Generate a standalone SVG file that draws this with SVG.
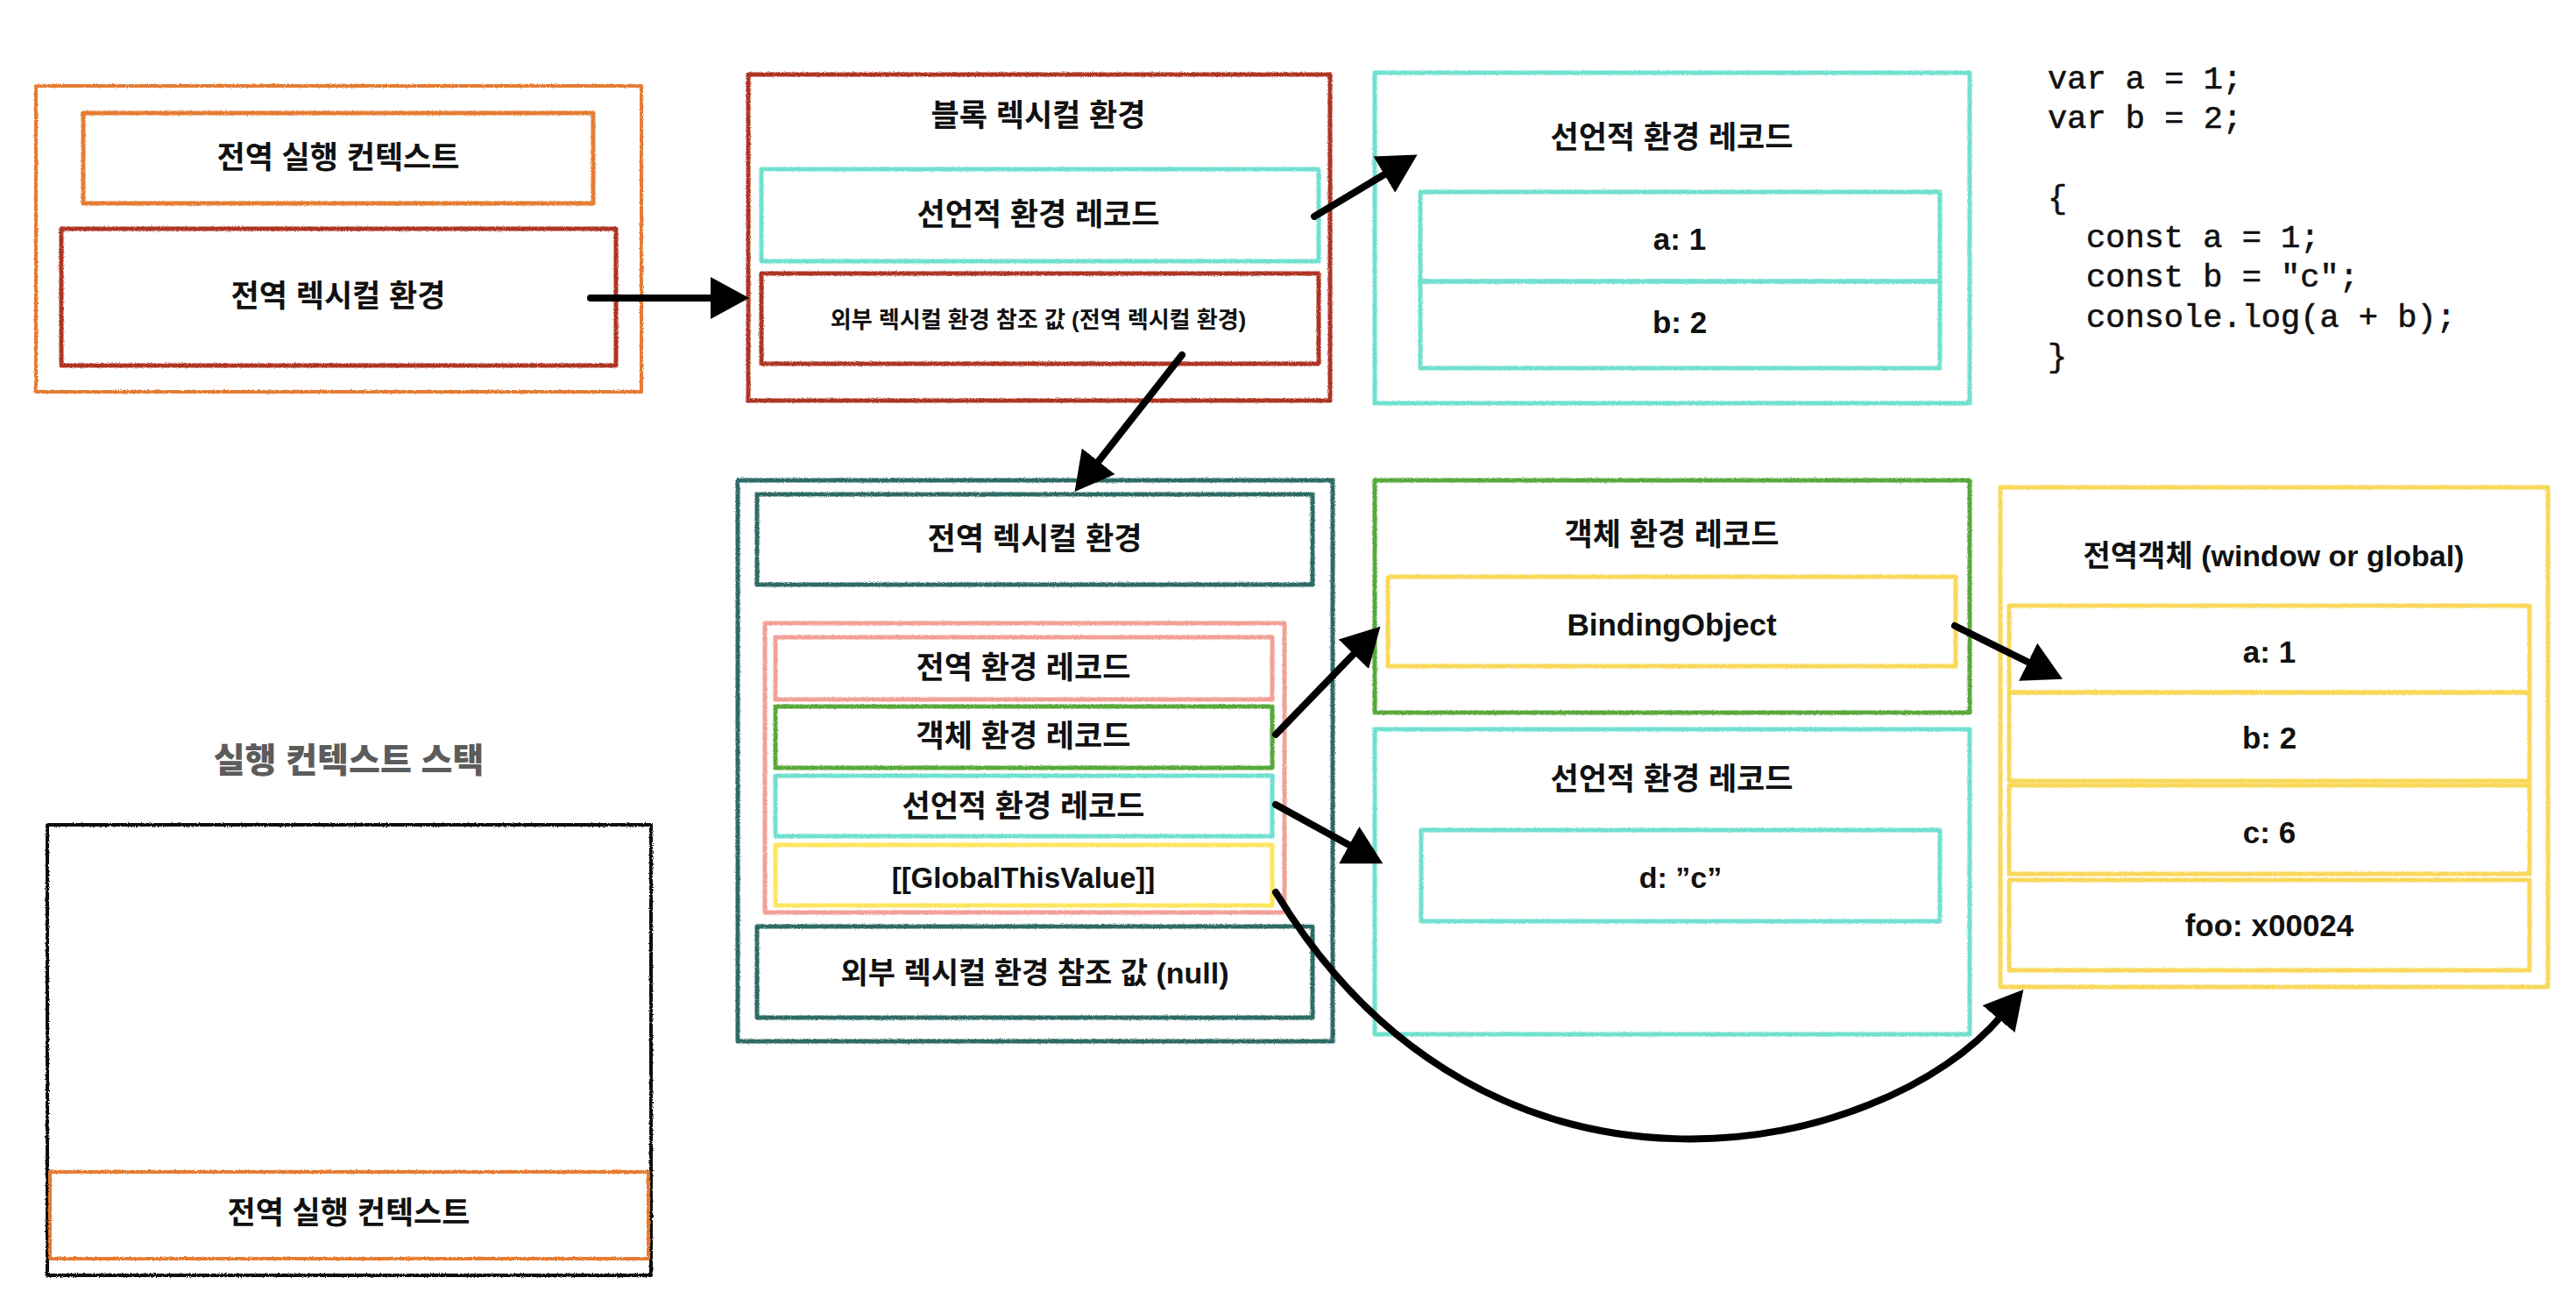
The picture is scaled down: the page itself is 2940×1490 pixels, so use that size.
<svg xmlns="http://www.w3.org/2000/svg" width="2940" height="1490" viewBox="0 0 2940 1490">
<style>
.box{fill:none;stroke-linejoin:round;filter:url(#rough)}
.or{stroke:#e57c30;stroke-width:5}
.rd{stroke:#ad3420;stroke-width:5}
.cy{stroke:#6fe0cf;stroke-width:5}
.tl{stroke:#2e6b66;stroke-width:5}
.sa{stroke:#f2a097;stroke-width:5}
.gr{stroke:#58a83a;stroke-width:5}
.ye{stroke:#f9d85a;stroke-width:5}
.ye2{stroke:#fde65c;stroke-width:5}
.bk{stroke:#111;stroke-width:4}
.k{font-family:"Liberation Sans","Noto Sans CJK KR",sans-serif;font-weight:700;font-size:35px;fill:#111;text-anchor:middle}
.l{font-family:"Liberation Sans","Noto Sans CJK KR",sans-serif;font-weight:700;font-size:35px;fill:#111;text-anchor:middle}
.code{font-family:"Liberation Mono",monospace;font-size:37px;fill:#111;stroke:#111;stroke-width:0.6}
.arr{fill:none;stroke:#000;stroke-width:8;stroke-linecap:round;marker-end:url(#head)}
</style>
<defs>
<filter id="rough" x="-3%" y="-3%" width="106%" height="106%">
<feTurbulence type="fractalNoise" baseFrequency="0.9" numOctaves="2" seed="4" result="n"/>
<feDisplacementMap in="SourceGraphic" in2="n" scale="3" xChannelSelector="R" yChannelSelector="G"/>
</filter>
<marker id="head" markerUnits="userSpaceOnUse" viewBox="0 0 44 48" markerWidth="44" markerHeight="48" refX="6" refY="24" orient="auto">
<path d="M0,0 L44,24 L0,48 Z" fill="#000"/>
</marker>
</defs>
<rect width="2940" height="1490" fill="#fff"/>

<g id="global-ec">
<rect class="box or" style="stroke-width:4" x="41" y="98" width="691" height="349"/>
<rect class="box or" x="95" y="129" width="582" height="103"/>
<text class="k" x="386" y="192">전역 실행 컨텍스트</text>
<rect class="box rd" x="70" y="261" width="633" height="156"/>
<text class="k" x="386" y="350">전역 렉시컬 환경</text>
</g>

<g id="block-lex-env">
<rect class="box rd" x="854" y="85" width="664" height="372"/>
<text class="k" x="1185" y="144">블록 렉시컬 환경</text>
<rect class="box cy" x="869" y="193" width="636" height="105"/>
<text class="k" x="1185" y="257">선언적 환경 레코드</text>
<rect class="box rd" x="869" y="312" width="636" height="103"/>
<text class="k" style="font-size:26px" x="1185" y="374">외부 렉시컬 환경 참조 값 (전역 렉시컬 환경)</text>
</g>

<g id="block-decl-record">
<rect class="box cy" x="1569" y="83" width="679" height="377"/>
<text class="k" x="1908" y="169">선언적 환경 레코드</text>
<rect class="box cy" x="1621" y="219" width="593" height="102"/>
<rect class="box cy" x="1621" y="321" width="593" height="99"/>
<text class="l" x="1917" y="285">a: 1</text>
<text class="l" x="1917" y="380">b: 2</text>
</g>

<g id="code">
<text class="code" x="2337" y="101">var a = 1;</text>
<text class="code" x="2337" y="146">var b = 2;</text>
<text class="code" x="2337" y="237">{</text>
<text class="code" x="2381" y="282">const a = 1;</text>
<text class="code" x="2381" y="327">const b = "c";</text>
<text class="code" x="2381" y="373">console.log(a + b);</text>
<text class="code" x="2337" y="418">}</text>
</g>

<g id="global-lex-env">
<rect class="box tl" x="842" y="548" width="679" height="640"/>
<rect class="box tl" x="864" y="564" width="634" height="103"/>
<text class="k" x="1181" y="627">전역 렉시컬 환경</text>
<rect class="box sa" x="873" y="711" width="593" height="330"/>
<rect class="box sa" x="885" y="727" width="567" height="71"/>
<text class="k" x="1168" y="774">전역 환경 레코드</text>
<rect class="box gr" x="885" y="806" width="567" height="70"/>
<text class="k" x="1168" y="852">객체 환경 레코드</text>
<rect class="box cy" x="885" y="885" width="567" height="69"/>
<text class="k" x="1168" y="932">선언적 환경 레코드</text>
<rect class="box ye2" x="885" y="964" width="567" height="69"/>
<text class="l" style="font-size:33px" x="1168" y="1013">[[GlobalThisValue]]</text>
<rect class="box tl" x="864" y="1057" width="634" height="104"/>
<text class="k" style="font-size:34px" x="1181" y="1122">외부 렉시컬 환경 참조 값 (null)</text>
</g>

<g id="object-env-record">
<rect class="box gr" x="1569" y="548" width="679" height="265"/>
<text class="k" x="1908" y="622">객체 환경 레코드</text>
<rect class="box ye" x="1584" y="658" width="648" height="102"/>
<text class="l" x="1908" y="725">BindingObject</text>
</g>

<g id="decl-env-record">
<rect class="box cy" x="1569" y="832" width="679" height="348"/>
<text class="k" x="1908" y="901">선언적 환경 레코드</text>
<rect class="box cy" x="1622" y="947" width="592" height="104"/>
<text class="l" style="font-size:34px" x="1918" y="1013">d: ”c”</text>
</g>

<g id="global-object">
<rect class="box ye" x="2283" y="556" width="625" height="570"/>
<text class="k" style="font-size:34px" x="2595" y="646">전역객체 (window or global)</text>
<rect class="box ye" x="2293" y="691" width="594" height="99"/>
<rect class="box ye" x="2293" y="790" width="594" height="101"/>
<rect class="box ye" x="2293" y="896" width="594" height="101"/>
<rect class="box ye" x="2293" y="1004" width="594" height="103"/>
<text class="l" x="2590" y="756">a: 1</text>
<text class="l" x="2590" y="854">b: 2</text>
<text class="l" x="2590" y="962">c: 6</text>
<text class="l" x="2590" y="1068">foo: x00024</text>
</g>

<g id="ec-stack">
<text class="k" style="font-size:39px;fill:#5c5c5c;font-weight:900" x="398" y="881">실행 컨텍스트 스택</text>
<rect class="box bk" x="54" y="941" width="689" height="514"/>
<rect class="box or" style="stroke-width:4" x="57" y="1337" width="683" height="99"/>
<text class="k" x="398" y="1396">전역 실행 컨텍스트</text>
</g>

<g id="connectors">
<path class="arr" d="M674,340 L817,340"/>
<path class="arr" d="M1500,247 L1585,196"/>
<path class="arr" d="M1349,405 L1250,531"/>
<path class="arr" d="M1456,838 L1549,742"/>
<path class="arr" d="M1456,918 L1545,967"/>
<path class="arr" d="M2231,714 L2320,758"/>
<path class="arr" d="M1456,1018 C1700,1420 2150,1319 2285,1158"/>
</g>
</svg>
